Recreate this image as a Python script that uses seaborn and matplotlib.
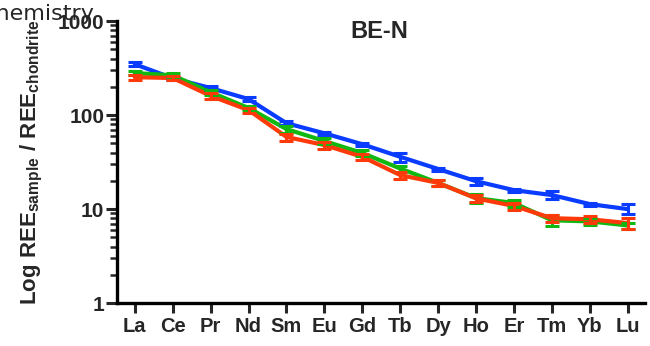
import matplotlib
matplotlib.use("Agg")
import matplotlib.pyplot as plt
import seaborn as sns
import pandas as pd
import numpy as np
from matplotlib.ticker import LogLocator, NullFormatter, FixedLocator

elements = ["La", "Ce", "Pr", "Nd", "Sm", "Eu", "Gd", "Tb", "Dy", "Ho", "Er", "Tm", "Yb", "Lu"]
series_names = ["S1", "S2", "S3"]
blue_vals = [348, 247, 194, 148, 82, 64, 49, 36, 26.7, 19.8, 15.9, 14.1, 11.3, 10.0]
blue_err = [17, 10, 8, 8, 4, 2.5, 2, 4, 1, 1.8, 0.6, 1.4, 0.4, 1.2]
green_vals = [280, 265, 175, 119, 71, 53, 39.5, 27, 19, 13.1, 11.6, 7.6, 7.4, 6.7]
green_err = [16, 14, 10, 6, 6, 4, 3, 2, 1.4, 1.4, 1.0, 1.0, 0.7, 0.5]
red_vals = [253, 248, 160, 113, 58.6, 48, 36, 23, 19, 13, 10.8, 8.0, 7.8, 7.1]
red_err = [15, 10, 10, 7, 5, 4, 3, 2, 1.2, 1.2, 0.9, 0.7, 0.6, 1.0]
colors = ["#0A3CFF", "#12B812", "#FF3A0A"]
y_ticks = [1, 10, 100, 1000]
y_ticklabels = ["1", "10", "100", "1000"]

sns.set_theme(style="white")
plt.rcParams["font.family"] = ["Liberation Sans", "DejaVu Sans"]
plt.rcParams["mathtext.fontset"] = "custom"
plt.rcParams["mathtext.rm"] = "Liberation Sans:bold"
plt.rcParams["mathtext.bf"] = "Liberation Sans:bold"
plt.rcParams["mathtext.it"] = "Liberation Sans:bold"

vals = [blue_vals, green_vals, red_vals]
errs = [blue_err, green_err, red_err]
rows = []
for name, v, e in zip(series_names, vals, errs):
    for i, (vv, ee) in enumerate(zip(v, e)):
        rows.append({"x": i, "val": vv, "err": ee, "series": name})
df = pd.DataFrame(rows)

fig = plt.figure(figsize=(6.5, 3.46), dpi=100)
ax = fig.add_axes([0.18, 0.124, 0.812, 0.815])

sns.lineplot(data=df, x="x", y="val", hue="series", palette=dict(zip(series_names, colors)),
             linewidth=3.0, ax=ax, legend=False, sort=False, errorbar=None)
for name, c in zip(series_names, colors):
    d = df[df.series == name]
    ax.errorbar(d["x"], d["val"], yerr=d["err"], fmt="none", ecolor=c,
                elinewidth=2.2, capsize=5, capthick=2.2, zorder=3)

ax.set_yscale("log")
ax.set_ylim(1, 1000)
ax.set_xlim(-0.47, 13.45)
ax.yaxis.set_major_locator(FixedLocator(y_ticks))
ax.set_yticklabels(y_ticklabels)
ax.yaxis.set_minor_locator(LogLocator(base=10, subs=np.arange(2, 10)))
ax.yaxis.set_minor_formatter(NullFormatter())
ax.set_xticks(range(len(elements)))
ax.set_xticklabels(elements)

for s in ["top", "right"]:
    ax.spines[s].set_visible(False)
for s in ["left", "bottom"]:
    ax.spines[s].set_linewidth(2.4)
    ax.spines[s].set_color("black")

ax.tick_params(axis="y", which="major", direction="out", length=8, width=2.2, labelsize=15, pad=1, left=True)
ax.tick_params(axis="y", which="minor", direction="out", length=5, width=1.8, left=True)
ax.tick_params(axis="x", which="major", direction="out", length=7, width=2.2, labelsize=14.5, pad=3, bottom=True)
for lab in ax.get_xticklabels() + ax.get_yticklabels():
    lab.set_fontweight("bold")

ax.set_xlabel("")
ax.set_ylabel(r"$\mathbf{Log\ REE_{sample}\ /\ REE_{chondrite}}$", fontsize=16, labelpad=9)
fig.text(379 / 650, 1 - 32 / 346, "BE-N", ha="center", va="center", fontsize=17, fontweight="bold")

fig.text(95 / 650, 1 - 20 / 346, "Chemistry", ha="right", va="baseline", fontsize=16,
         family=["DejaVu Sans"])

fig.savefig("out.png", dpi=100)
